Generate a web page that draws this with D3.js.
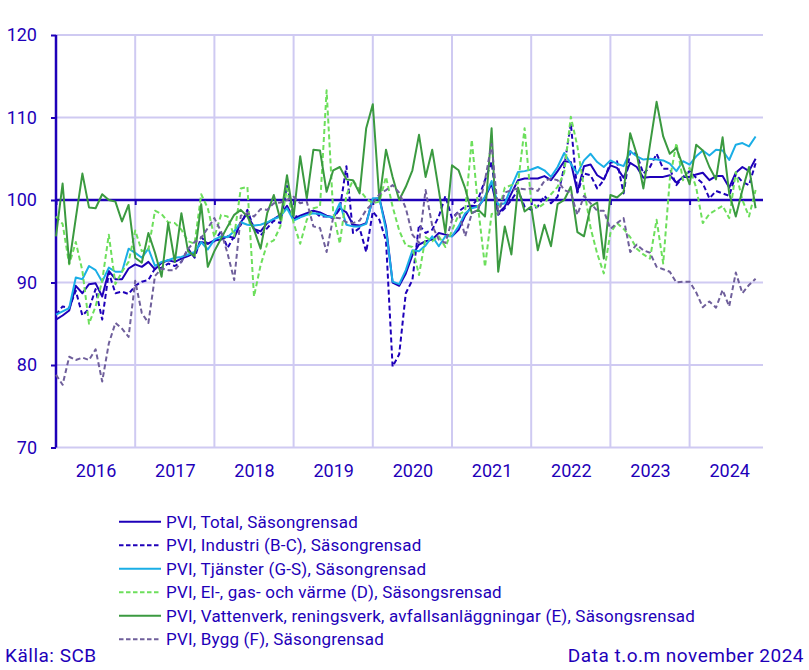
<!DOCTYPE html>
<html><head><meta charset="utf-8">
<script src="https://cdn.jsdelivr.net/npm/d3@7"></script>
<style>body{margin:0;background:#fff;font-family:Roboto,"Noto Sans",sans-serif;}svg{display:block}</style>
</head><body><svg id="c" width="809" height="670"></svg>
<script>
const years = ["2016","2017","2018","2019","2020","2021","2022","2023","2024"];
const yTicks = [70,80,90,100,110,120];
const seriesNames = [
 "PVI, Total, Säsongrensad",
 "PVI, Industri (B-C), Säsongrensad",
 "PVI, Tjänster (G-S), Säsongrensad",
 "PVI, El-, gas- och värme (D), Säsongsrensad",
 "PVI, Vattenverk, reningsverk, avfallsanläggningar (E), Säsongsrensad",
 "PVI, Bygg (F), Säsongrensad"
];
// Monthly values Jan 2016 .. Nov 2024
const total = [85.5,86.0,86.6,89.6,88.7,89.8,89.9,88.3,91.4,90.4,90.4,91.7,
 92.2,91.9,92.5,91.6,92.4,92.7,92.5,92.9,93.2,93.6,94.9,94.7,
 95.1,95.2,95.6,95.4,97.3,98.4,96.5,96.2,97.2,97.7,98.2,99.3,
 97.7,98.1,98.4,98.7,98.5,98.1,97.9,99.0,98.5,97.0,96.9,97.2,
 100.1,100.2,96.8,90.0,89.6,91.1,93.3,94.6,95.0,95.2,96.0,95.8,
 95.6,96.4,98.1,99.3,99.2,100.3,102.0,98.4,99.2,100.8,102.4,102.6,
 102.6,102.6,102.9,102.4,103.5,104.7,104.6,101.0,104.1,104.3,103.0,102.5,
 104.2,103.9,102.7,104.5,104.0,102.7,102.8,102.8,102.8,103.0,102.1,102.8,
 102.8,103.1,103.3,102.4,102.9,102.9,101.5,103.3,104.0,103.5,105.0];
const industri = [86.1,87.1,86.9,89.0,86.0,86.8,89.2,85.5,91.2,88.7,88.9,88.6,
 89.6,90.1,90.3,91.7,91.8,92.3,92.0,92.5,94.1,93.0,95.5,94.7,
 95.0,96.2,94.2,95.6,97.0,98.8,96.5,95.7,96.6,97.5,97.2,101.7,
 98.2,97.8,98.4,98.7,98.0,98.0,97.8,98.9,104.1,96.0,96.6,93.7,
 98.6,97.6,95.1,79.8,81.3,88.7,90.3,97.0,96.0,96.4,98.0,100.5,
 97.8,98.6,99.2,99.3,100.2,102.4,104.6,98.2,99.0,100.0,101.2,99.2,
 98.8,99.2,100.5,99.6,100.4,104.0,109.3,100.9,103.2,103.0,101.4,102.4,
 104.5,104.7,100.8,105.9,105.5,103.2,104.0,105.6,103.8,103.8,101.8,102.8,
 103.5,102.7,102.0,100.2,101.1,100.8,100.5,103.1,102.2,101.8,104.45];
const tjanster = [86.1,86.5,86.9,90.6,90.4,92.0,91.5,90.1,91.8,91.3,91.3,94.1,
 93.6,93.0,94.1,92.0,92.5,92.7,93.0,93.1,93.4,93.7,94.9,94.0,
 95.2,95.6,95.5,96.2,97.3,97.0,96.9,97.0,97.3,97.7,98.0,99.0,
 97.5,97.9,98.2,98.4,98.3,98.0,97.9,99.6,97.0,96.8,96.8,97.1,
 100.2,100.2,96.4,90.1,89.8,91.5,93.9,93.8,94.5,95.6,94.4,95.6,
 95.6,96.8,98.4,99.0,99.2,100.4,102.3,99.4,99.6,101.6,103.4,103.5,
 103.7,104.0,103.6,102.8,104.0,105.7,104.4,103.2,104.8,105.6,104.6,104.0,
 104.8,104.4,104.1,105.9,105.3,104.9,105.0,104.9,104.8,104.4,103.5,104.7,
 104.3,105.3,106.0,105.4,106.1,106.0,104.85,106.7,106.9,106.5,107.7];
const el = [98.0,97.1,92.2,94.9,91.4,85.0,87.1,90.2,95.8,89.8,91.3,92.5,
 96.3,93.8,94.0,98.7,98.3,97.3,97.2,96.4,95.0,94.7,100.7,99.0,
 95.5,98.2,98.0,95.6,101.4,101.6,88.3,92.1,94.7,95.1,96.8,101.4,
 97.2,94.7,97.6,99.0,99.2,113.3,98.5,94.7,100.6,102.4,101.2,100.2,
 99.6,99.8,102.8,99.2,96.3,94.5,94.3,90.9,95.5,95.0,95.6,94.3,
 96.3,98.2,98.7,107.3,98.8,91.9,98.3,98.4,101.5,101.8,102.0,108.7,
 99.8,99.0,99.6,100.7,101.6,103.3,110.1,106.5,101.4,96.6,93.5,91.1,
 96.0,97.2,96.5,95.5,94.1,93.4,92.9,97.6,92.3,102.5,106.9,102.4,
 103.9,101.5,97.2,98.3,98.8,99.3,97.8,103.4,100.0,98.0,101.2];
const vatten = [95.6,102.0,92.3,97.8,103.2,99.1,99.0,100.7,100.0,99.8,97.4,99.4,
 93.0,92.4,96.0,93.6,90.7,97.2,92.5,98.4,93.8,93.2,99.5,91.9,
 93.8,95.3,96.8,98.2,98.8,98.0,96.4,94.1,98.4,100.6,97.6,103.0,
 98.0,105.3,100.2,106.1,106.0,101.0,103.6,104.0,102.5,102.4,100.8,108.7,
 111.6,100.0,106.1,102.8,100.0,101.6,103.6,107.9,102.8,106.1,101.2,96.0,
 104.2,103.6,101.4,98.4,98.8,98.0,108.7,91.3,96.8,93.4,101.5,98.6,
 99.2,93.9,97.0,94.4,99.5,100.0,101.6,96.1,95.6,99.2,99.7,92.9,
 100.6,100.3,101.0,108.1,105.5,101.4,106.7,111.9,107.7,105.6,106.3,104.1,
 101.9,106.7,106.0,104.0,102.5,107.6,100.8,98.0,101.2,104.0,99.0];
const bygg = [78.8,77.6,81.0,80.6,80.9,80.6,81.9,78.0,82.6,85.1,84.4,83.4,
 90.2,86.3,85.1,90.8,91.7,91.5,91.5,92.5,94.1,94.9,95.4,96.6,
 97.8,96.2,93.5,90.3,98.1,98.4,98.0,98.9,98.8,99.6,99.7,100.0,
 100.4,99.6,99.8,96.8,96.6,93.7,97.9,97.8,97.3,97.2,97.5,98.8,
 99.6,100.7,101.2,101.8,100.9,99.0,95.8,94.8,101.2,96.9,95.2,94.8,
 97.6,98.6,95.6,98.4,98.8,102.4,106.8,98.3,100.9,101.2,101.4,101.3,
 101.4,101.1,102.3,102.6,102.4,101.2,100.9,98.2,100.5,99.6,98.7,98.7,
 96.5,97.2,97.8,93.7,94.6,93.9,93.6,91.9,91.6,91.3,90.0,90.1,
 90.1,88.8,87.0,87.7,86.95,89.1,87.1,91.2,88.7,89.7,90.45];

const series = [
 {name: seriesNames[0], values: total,    color: "#1e00b9", dash: null},
 {name: seriesNames[1], values: industri, color: "#1e00b9", dash: "5,3"},
 {name: seriesNames[2], values: tjanster, color: "#1aaee6", dash: null},
 {name: seriesNames[3], values: el,       color: "#6ddf5c", dash: "5,3"},
 {name: seriesNames[4], values: vatten,   color: "#3b9a40", dash: null},
 {name: seriesNames[5], values: bygg,     color: "#6f5f9b", dash: "5,3"}
];

const axisColor = "#1e00b9", gridColor = "#cfcaf2";
const svg = d3.select("#c");
const x = d3.scaleLinear().domain([0, 107]).range([56, 762.2]);
const y = d3.scaleLinear().domain([70, 120]).range([447.5, 35]);

// horizontal grid
svg.append("g").selectAll("line").data(yTicks.filter(d => d !== 100)).join("line")
  .attr("x1", 56).attr("x2", 763).attr("y1", d => y(d)).attr("y2", d => y(d))
  .attr("stroke", gridColor).attr("stroke-width", 2);
// vertical grid at year starts
const yearStarts = years.map((d, i) => i * 12);
svg.append("g").selectAll("line").data(yearStarts.slice(1)).join("line")
  .attr("x1", d => x(d)).attr("x2", d => x(d)).attr("y1", 35).attr("y2", 447.5)
  .attr("stroke", gridColor).attr("stroke-width", 2);

// x axis line at 100 with ticks
const xAxis = svg.append("g").attr("transform", `translate(0,${y(100)})`)
  .call(d3.axisBottom(x).tickValues(yearStarts).tickSize(5).tickFormat(""));
xAxis.select(".domain").attr("stroke", axisColor).attr("stroke-width", 2.5)
  .attr("d", `M${x(0)},0H763`);
xAxis.selectAll(".tick line").attr("stroke", axisColor).attr("stroke-width", 2);

// year labels
const xLab = svg.append("g").attr("transform", `translate(0,447.5)`)
  .call(d3.axisBottom(x).tickValues(yearStarts.map(d => d + 6)).tickSize(0).tickPadding(17)
    .tickFormat((d, i) => years[i]));
xLab.select(".domain").remove();
xLab.selectAll("text").attr("fill", axisColor).style("font-size", "18px").style("font-family", "Roboto");

// y axis
const yAxis = svg.append("g").attr("transform", `translate(56,0)`)
  .call(d3.axisLeft(y).tickValues(yTicks).tickSize(5).tickPadding(14));
yAxis.select(".domain").attr("stroke", axisColor).attr("stroke-width", 2.5)
  .attr("d", `M0,${y(120)}V${y(70)}`);
yAxis.selectAll(".tick line").attr("stroke", axisColor).attr("stroke-width", 2);
yAxis.selectAll("text").attr("fill", axisColor).style("font-size", "18px").style("font-family", "Roboto");

// lines
const line = d3.line().x((d, i) => x(i)).y(d => y(d));
svg.append("g").selectAll("path").data(series).join("path")
  .attr("d", d => line(d.values)).attr("fill", "none")
  .attr("stroke", d => d.color).attr("stroke-width", 2)
  .attr("stroke-dasharray", d => d.dash)
  .attr("stroke-linejoin", "round");

// legend
const leg = svg.append("g").selectAll("g").data(series).join("g")
  .attr("transform", (d, i) => `translate(119,${521.7 + i * 23.5})`);
leg.append("line").attr("x1", 0).attr("x2", 42).attr("y1", 0).attr("y2", 0)
  .attr("stroke", d => d.color).attr("stroke-width", 2).attr("stroke-dasharray", d => d.dash ? "4.5,2.5" : null);
leg.append("text").attr("x", 47).attr("dy", "0.35em").text(d => d.name)
  .attr("fill", axisColor).style("font-size", "17px").style("letter-spacing", "0.2px").style("font-family", "Roboto");

svg.append("text").attr("x", 5).attr("y", 662).text("Källa: SCB")
  .attr("fill", axisColor).style("font-size", "19px").style("letter-spacing", "0.5px").style("font-family", "Roboto");
svg.append("text").attr("x", 804).attr("y", 662).attr("text-anchor", "end").text("Data t.o.m november 2024")
  .attr("fill", axisColor).style("font-size", "19px").style("letter-spacing", "0.5px").style("font-family", "Roboto");
</script></body></html>
